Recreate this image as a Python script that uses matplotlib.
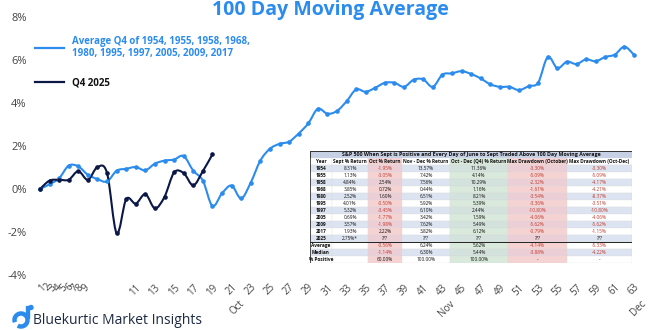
import numpy as np
import matplotlib.pyplot as plt
from matplotlib.path import Path
from matplotlib.patches import PathPatch, Rectangle, Circle, Arc
from matplotlib.lines import Line2D

plt.rcParams['font.family'] = ['Open Sans', 'DejaVu Sans']

# --- series (% change from start of Q4, by trading day) ---
avg_q4 = [0.00, 0.22, 0.50, 1.09, 1.05, 0.66, 0.46, 0.35, 0.85, 0.94,
          1.02, 0.87, 1.18, 1.32, 1.37, 1.53, 0.85, 0.39, -0.79, -0.20,
          0.16, -0.44, 0.30, 1.32, 1.87, 2.10, 2.20, 2.58, 3.05, 3.73,
          3.50, 3.63, 4.08, 4.63, 4.52, 4.71, 4.94, 4.94, 4.75, 5.08,
          5.10, 4.75, 5.32, 5.38, 5.48, 5.35, 5.14, 4.87, 4.75, 4.75,
          4.60, 4.78, 4.95, 6.14, 5.62, 5.92, 5.81, 6.03, 5.94, 6.14,
          6.25, 6.62, 6.24]
q4_2025 = [0.00, 0.39, 0.43, 0.43, 0.83, 0.43, 1.02, 0.74, -2.06, -0.47,
           -0.68, -0.24, -0.90, -0.36, 0.77, 0.74, 0.17, 0.83, 1.61]

avg_label = "Average Q4 of 1954, 1955, 1958, 1968,\n1980, 1995, 1997, 2005, 2009, 2017"
cur_label = "Q4 2025"

# x tick labels: first nine crowd together, then every other day
tick_names = [str(k) for k in range(1, 10)] + [str(k) for k in range(11, 64, 2)]
tick_pos = [1 + (k - 1) * 0.57 for k in range(1, 10)] + list(range(11, 64, 2))
month_days = [21, 43, 63]
month_names = ["Oct", "Nov", "Dec"]

y_ticks = [-4, -2, 0, 2, 4, 6, 8]

# --- table contents ---
tbl_title = "S&P 500 When Sept is Positive and Every Day of June to Sept Traded Above 100 Day Moving Average"
tbl_cols = ["Year", "Sept % Return", "Oct % Return", "Nov - Dec % Return",
            "Oct - Dec (Q4) % Return", "Max Drawdown (October)", "Max Drawdown (Oct-Dec)"]
years = ["1954", "1955", "1958", "1968", "1980", "1995", "1997", "2005", "2009", "2017", "2025"]
sept_ret = ["8.31%", "1.13%", "4.84%", "3.85%", "2.52%", "4.01%", "5.32%", "0.69%", "3.57%", "1.93%", "2.75%*"]
oct_ret = ["-1.95%", "-3.05%", "2.54%", "0.72%", "1.60%", "-0.50%", "-3.45%", "-1.77%", "-1.98%", "2.22%", "???"]
novdec_ret = ["13.57%", "7.42%", "7.56%", "0.44%", "6.51%", "5.92%", "6.10%", "3.42%", "7.62%", "3.82%", "???"]
q4_ret = ["11.36%", "4.14%", "10.29%", "1.16%", "8.21%", "5.39%", "2.44%", "1.59%", "5.49%", "6.12%", "???"]
dd_oct = ["-3.30%", "-5.09%", "-2.32%", "-1.61%", "-3.54%", "-3.36%", "-10.80%", "-4.06%", "-5.62%", "-0.79%", "???"]
dd_q4 = ["-3.30%", "-5.09%", "-4.17%", "-4.21%", "-8.37%", "-3.51%", "-10.80%", "-4.06%", "-5.62%", "-1.15%", "???"]
summary_names = ["Average", "Median", "% Positive"]
summary_vals = [["", "-0.56%", "6.24%", "5.62%", "-4.14%", "-5.33%"],
                ["", "-1.14%", "6.30%", "5.44%", "-3.88%", "-4.22%"],
                ["", "60.00%", "100.00%", "100.00%", "-", "-"]]

BLUE = "#2b8cee"
NAVY = "#0b1746"
GREY = "#444444"


def smooth_path(xs, ys):
    # Catmull-Rom style curve through every point, as cubic Beziers
    pts = np.column_stack([xs, ys]).astype(float)
    n = len(pts)
    verts = [pts[0]]
    codes = [Path.MOVETO]
    for i in range(n - 1):
        p0 = pts[max(i - 1, 0)]
        p1 = pts[i]
        p2 = pts[i + 1]
        p3 = pts[min(i + 2, n - 1)]
        c1 = p1 + (p2 - p0) / 6.0
        c2 = p2 - (p3 - p1) / 6.0
        verts += [c1, c2, p2]
        codes += [Path.CURVE4] * 3
    return Path(verts, codes)


fig = plt.figure(figsize=(6.6, 3.3), dpi=100)
W, H = 660, 330
ax = fig.add_axes([35 / W, 1 - 275 / H, 615 / W, 258 / H])

for vals, col in [(avg_q4, BLUE), (q4_2025, NAVY)]:
    xs = np.arange(1, len(vals) + 1)
    ax.add_patch(PathPatch(smooth_path(xs, vals), facecolor="none",
                           edgecolor=col, lw=1.5, zorder=3))
    ax.plot(xs, vals, ls="none", marker="o", ms=2.3, color=col, zorder=4)

ax.set_xlim(0.48, 64.67)
ax.set_ylim(-4, 8)
ax.set_yticks(y_ticks)
ax.set_yticklabels([f"{v}%" for v in y_ticks], fontsize=8, color=GREY)
ax.set_xticks(tick_pos)
ax.set_xticklabels(tick_names, rotation=45, ha="right", rotation_mode="anchor",
                   fontsize=7, color=GREY)
ax.tick_params(axis="y", length=0, pad=6)
ax.tick_params(axis="x", length=0, pad=5)
for s in ax.spines.values():
    s.set_visible(False)

# month names under their day numbers
for d, m in zip(month_days, month_names):
    ax.annotate(m, xy=(d, 0), xycoords=("data", "axes fraction"),
                xytext=(5, -17), textcoords="offset points", rotation=45,
                ha="right", va="top", rotation_mode="anchor", fontsize=7, color=GREY)

fig.text(330 / W, 1 - 0.5 / H, "100 Day Moving Average", ha="center", va="top",
         fontsize=14, fontweight="bold", color=BLUE)

# legend
leg_handles = [Line2D([], [], color=BLUE, lw=1.6), Line2D([], [], color=NAVY, lw=1.6)]
leg = ax.legend(leg_handles, [avg_label, cur_label], loc="upper left",
                bbox_to_anchor=(-0.014, 0.962), frameon=False, handlelength=3.0,
                handletextpad=0.8, labelspacing=1.9, prop={"size": 7, "weight": "bold"})
leg.get_texts()[0].set_color(BLUE)
leg.get_texts()[1].set_color("#111111")

# --- table inset, drawn in pixel units ---
tx0, ty0, tw, th = 310, 151, 322, 112
tax = fig.add_axes([tx0 / W, 1 - (ty0 + th) / H, tw / W, th / H])
tax.set_xlim(0, tw)
tax.set_ylim(th, 0)
tax.axis("off")
col_edges = np.array([310, 332, 368, 402, 450, 508, 567, 632]) - tx0
rh = th / 16.0
pink = "#f6d3d3"
green = "#d9eadc"
band = "#dde4f1"
red_txt = "#c0392b"
tfs = 3.4

tax.add_patch(Rectangle((0, 0), tw, rh, facecolor="#c7d1e6", edgecolor="#333333", lw=0.6))
tax.text(tw / 2, rh / 2, tbl_title, ha="center", va="center", fontsize=3.8,
         fontweight="bold", color="#111111")

rows = [tbl_cols]
for i in range(len(years)):
    rows.append([years[i], sept_ret[i], oct_ret[i], novdec_ret[i], q4_ret[i], dd_oct[i], dd_q4[i]])
for name, vals in zip(summary_names, summary_vals):
    rows.append([name] + vals)

for r, row in enumerate(rows):
    y = rh * (r + 1)
    striped = (r >= 1 and r % 2 == 1) or r == 13
    for c in range(7):
        x = col_edges[c]
        w = col_edges[c + 1] - col_edges[c]
        fc = band if striped else "white"
        if c in (2, 5):
            fc = pink if not striped else "#eccfd6"
        elif c == 4:
            fc = green if not striped else "#d3e2dc"
        tax.add_patch(Rectangle((x, y), w, rh, facecolor=fc, edgecolor="#d8d8d8", lw=0.2))
        txt = row[c]
        colr = "#111111"
        if r > 0 and c in (2, 3, 4, 5, 6) and txt.startswith("-") and txt != "-":
            colr = red_txt
        bold = r == 0 or c == 0
        tax.text(x + w / 2, y + rh / 2, txt, ha="center", va="center", fontsize=tfs,
                 color=colr, fontweight="bold" if bold else "normal")

tax.plot([0, tw], [rh * 13, rh * 13], color="#222222", lw=0.7)
tax.add_patch(Rectangle((0, 0), tw, th, facecolor="none", edgecolor="#333333", lw=0.6))

# brand mark
lax = fig.add_axes([0, 0, 1, 1], facecolor="none")
lax.set_xlim(0, W)
lax.set_ylim(H, 0)
lax.axis("off")
lax.add_patch(Arc((21, 320), 13, 13, theta1=-200, theta2=120, color=BLUE, lw=3.2))
lax.add_patch(Rectangle((25.5, 306), 3.2, 12, color=BLUE))
lax.add_patch(Circle((31, 307.5), 2.0, color=BLUE))
lax.text(33, 320, "Bluekurtic Market Insights", ha="left", va="center",
         fontsize=10, color="#1d2a44")

fig.savefig("out.png", dpi=100)
